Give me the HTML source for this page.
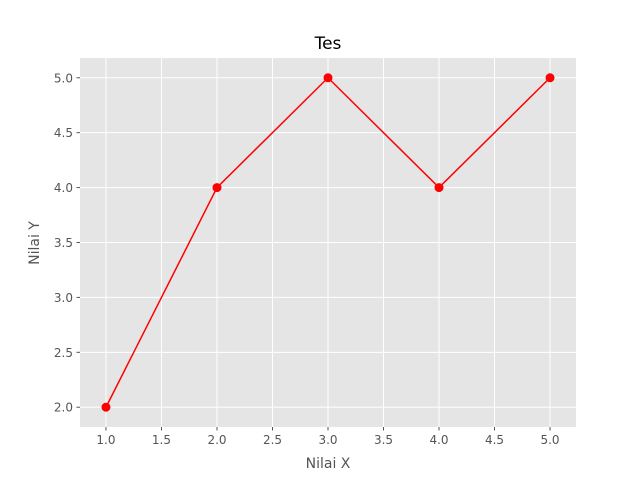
<!DOCTYPE html>
<html><head><meta charset="utf-8"><style>
body{margin:0;background:#fff;}
svg{display:block;font-family:"DejaVu Sans","Liberation Sans",sans-serif;}
</style></head><body>
<svg id="chart" width="640" height="480">
<rect x="0" y="0" width="640" height="480" fill="#fff"/>
<rect x="80" y="58" width="496" height="369" fill="#e5e5e5"/>
<g id="grid"></g><g id="ticks"></g><g id="series"></g>
<text x="328" y="49" font-size="17" text-anchor="middle" fill="#000">Tes</text>
<text x="328" y="468" font-size="14" text-anchor="middle" fill="#555">Nilai X</text>
<text x="39" y="243" font-size="14" text-anchor="middle" fill="#555" transform="rotate(-90 39 243)">Nilai Y</text>
</svg>
<script>
const xValues=[1,2,3,4,5];
const yValues=[2,4,5,4,5];
const xTicks=[1.0,1.5,2.0,2.5,3.0,3.5,4.0,4.5,5.0];
const yTicks=[2.0,2.5,3.0,3.5,4.0,4.5,5.0];
const NS="http://www.w3.org/2000/svg";
const L=80,R=576,T=58,B=427,xmin=0.766,xmax=5.234,ymin=1.82,ymax=5.18;
function sx(v){return L+(v-xmin)/(xmax-xmin)*(R-L);}
function sy(v){return B-(v-ymin)/(ymax-ymin)*(B-T);}
function mk(tag,attrs,parent){const e=document.createElementNS(NS,tag);for(const k in attrs)e.setAttribute(k,attrs[k]);document.getElementById(parent).appendChild(e);return e;}
xTicks.forEach(t=>{const x=sx(t);
 const g=mk('line',{x1:x,x2:x,y1:T,y2:B,stroke:'#fff','stroke-width':1},'grid');
 
 
 const k=mk('line',{x1:x,x2:x,y1:B,y2:B+3.5,stroke:'#555'},'ticks');
 
 
 const s=mk('text',{x:x,y:B+17,'font-size':12,'text-anchor':'middle',fill:'#555'},'ticks');
 s.textContent=t.toFixed(1);
 
 
});
yTicks.forEach(t=>{const y=sy(t);
 const g=mk('line',{x1:L,x2:R,y1:y,y2:y,stroke:'#fff','stroke-width':1},'grid');
 
 
 const k=mk('line',{x1:L-3.5,x2:L,y1:y,y2:y,stroke:'#555'},'ticks');
 
 
 const s=mk('text',{x:L-7,y:y+4.5,'font-size':12,'text-anchor':'end',fill:'#555'},'ticks');
 s.textContent=t.toFixed(1);
 
 
});
const pts=xValues.map((x,i)=>sx(x)+','+sy(yValues[i])).join(' ');
const line=mk('polyline',{points:pts,fill:'none',stroke:'#ff0000','stroke-width':1.5},'series');


xValues.forEach((x,i)=>{
 const c=mk('circle',{cx:sx(x),cy:sy(yValues[i]),r:4.5,fill:'#ff0000'},'series');
 
 
});
</script>
</body></html>
